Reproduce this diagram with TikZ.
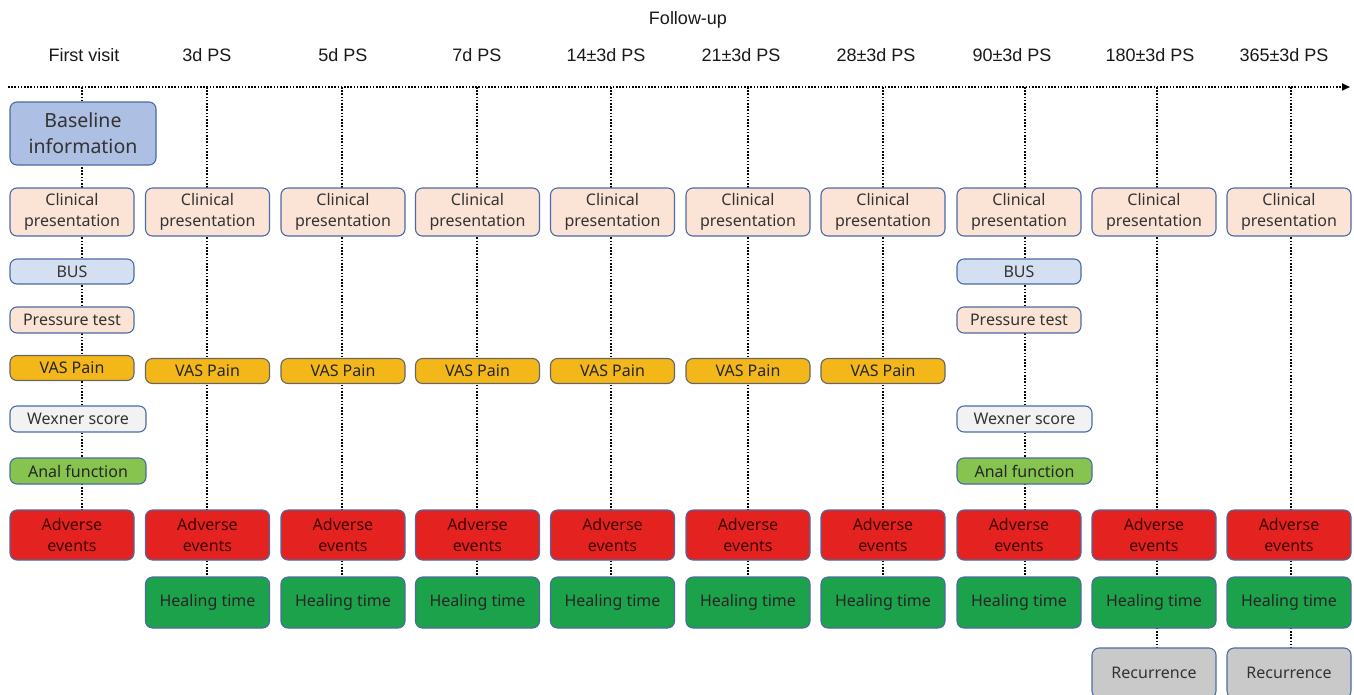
\documentclass[tikz,border=0pt]{standalone}
\usepackage{fontspec}
\setmainfont{Liberation Sans}
\newfontfamily\boxfont{Noto Sans}
\usetikzlibrary{backgrounds,arrows.meta}
\definecolor{bordc}{HTML}{4D6AA3}
\definecolor{basef}{HTML}{ADBFE3}
\definecolor{peach}{HTML}{FBE3D6}
\definecolor{busf}{HTML}{D5DFF2}
\definecolor{vasf}{HTML}{F4B71A}
\definecolor{wexf}{HTML}{F2F2F2}
\definecolor{analf}{HTML}{86C34F}
\definecolor{aef}{HTML}{E42320}
\definecolor{healf}{HTML}{1CA24A}
\definecolor{recf}{HTML}{C9C9C9}
\definecolor{txt}{HTML}{333333}
\tikzset{
  box/.style={draw=bordc, line width=1.1pt, rounded corners=7pt, inner sep=0pt,
    align=center, text=txt, font=\boxfont\fontsize{16}{21.5}\selectfont},
  cpbox/.style={box, fill=peach, minimum width=124pt, minimum height=48pt},
  busbox/.style={box, fill=busf, minimum width=124pt, minimum height=25pt},
  ptbox/.style={box, fill=peach, minimum width=124pt, minimum height=26pt},
  vasbox/.style={box, fill=vasf, draw=black!60, minimum width=124pt, minimum height=25pt, text=black!85},
  wexbox/.style={box, fill=wexf, minimum width=136pt, minimum height=26pt},
  analbox/.style={box, fill=analf, minimum width=136pt, minimum height=26pt, text=black!85},
  aebox/.style={box, fill=aef, minimum width=124pt, minimum height=50pt, text=black!75!red},
  htbox/.style={box, fill=healf, minimum width=124pt, minimum height=51pt, text=black!85},
  recbox/.style={box, fill=recf, minimum width=124pt, minimum height=50pt},
  hdr/.style={font=\fontsize{18}{22}\selectfont, text=black!90, inner sep=0pt},
  vline/.style={line width=1.7pt, dash pattern=on 1.6pt off 1.6pt, black}
}
\begin{document}
\begin{tikzpicture}[x=1pt,y=-1pt]
\useasboundingbox (0,0) rectangle (1354,694);
\node[hdr] (fu) at (688,20) {Follow-up};
\node[hdr] (hd0) at (84,55) {First visit};
\coordinate (ax0) at (82,87);
\coordinate (axs) at (8,87);
\coordinate (axe) at (1350,87);

% first visit column
\node[box, fill=basef, minimum width=146pt, minimum height=63pt,
  font=\boxfont\fontsize{19.5}{26}\selectfont] (base) at (83,133.5) {Baseline\\information};
\node[cpbox] (cp0) at (72,212) {Clinical\\presentation};
\node[busbox] (bus0) at (72,271.5) {BUS};
\node[ptbox] (pt0) at (72,320) {Pressure test};
\node[vasbox] (vas0) at (72,368) {VAS Pain};
\node[wexbox] (wex0) at (78,419) {Wexner score};
\node[analbox] (anal0) at (78,471) {Anal function};
\node[aebox] (ae0) at (72,535) {Adverse\\events};

% follow-up columns
\foreach \i/\cx/\lx/\hx/\lab in {1/207.5/207/207/3d PS, 2/343/342/343/5d PS, 3/477.5/477/477/7d PS,
  4/612.5/611/606/14±3d PS, 5/748/748/741/21±3d PS, 6/883/883/876/28±3d PS,
  7/1019/1025/1012/90±3d PS, 8/1154/1157/1150/180±3d PS, 9/1289/1291/1284/365±3d PS}{
  \node[hdr] (hd\i) at (\hx,55) {\lab};
  \coordinate (ax\i) at (\lx,87);
  \node[cpbox] (cp\i) at (\cx,212) {Clinical\\presentation};
  \node[aebox] (ae\i) at (\cx,535) {Adverse\\events};
  \node[htbox] (ht\i) at (\cx,602.5) {Healing time};
}
\foreach \i/\cx in {1/207.5, 2/343, 3/477.5, 4/612.5, 5/748, 6/883}{
  \node[vasbox] (vas\i) at (\cx,371) {VAS Pain};
}
\node[busbox] (bus7) at (1019,271.5) {BUS};
\node[ptbox] (pt7) at (1019,320) {Pressure test};
\node[wexbox, minimum width=135pt] (wex7) at (1024.5,419) {Wexner score};
\node[analbox, minimum width=135pt] (anal7) at (1024.5,471) {Anal function};
\node[recbox] (rec8) at (1154,673) {Recurrence};
\node[recbox] (rec9) at (1289,673) {Recurrence};

\begin{scope}[on background layer]
  \draw[vline, -{Triangle[length=8pt,width=7pt]}] (axs) -- (axe);
  \draw[vline] (ax0) -- (ax0 |- ae0.north);
  \foreach \i in {1,...,7}{ \draw[vline] (ax\i) -- (ax\i |- ht\i.north); }
  \foreach \i in {8,9}{ \draw[vline] (ax\i) -- (ax\i |- rec\i.north); }
\end{scope}
\end{tikzpicture}
\end{document}
